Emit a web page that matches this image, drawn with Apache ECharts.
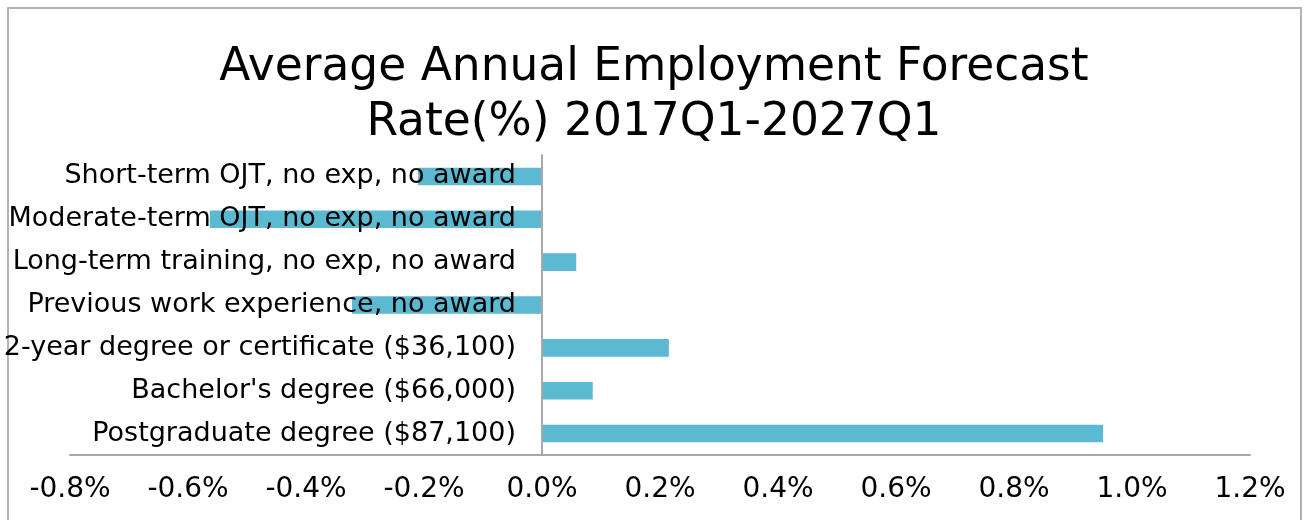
<!DOCTYPE html>
<html>
<head>
<meta charset="utf-8">
<script src="https://cdn.jsdelivr.net/npm/echarts@6/dist/echarts.min.js"></script>
<style>
html,body{margin:0;padding:0;background:#fff;}
#chart{width:1308px;height:520px;}
</style>
</head>
<body>
<div id="chart"></div>
<script>
const titleLines = ["Average Annual Employment Forecast", "Rate(%) 2017Q1-2027Q1"];
const categories = [
  "Postgraduate degree ($87,100)",
  "Bachelor's degree ($66,000)",
  "2-year degree or certificate ($36,100)",
  "Previous work experience, no award",
  "Long-term training, no exp, no award",
  "Moderate-term OJT, no exp, no award",
  "Short-term OJT, no exp, no award"
];
const rates = [0.951, 0.086, 0.215, -0.322, 0.058, -0.563, -0.210];
const xMin = -0.8, xMax = 1.2, xStep = 0.2;

const gridLeft = 70, gridRight = 58;
const chartW = 1308;
const plotW = chartW - gridLeft - gridRight;
const zeroOffset = -plotW * (0 - xMin) / (xMax - xMin);

const chart = echarts.init(document.getElementById('chart'), null, {renderer: 'canvas'});
const font = "'DejaVu Sans', Verdana, sans-serif";
chart.setOption({
  animation: false,
  backgroundColor: '#ffffff',
  title: {
    text: titleLines.join('\n'),
    left: 'center',
    top: 36,
    textStyle: {fontFamily: font, fontSize: 45.5, fontWeight: 'normal', color: '#000', lineHeight: 55}
  },
  graphic: [{
    type: 'rect',
    shape: {x: 8, y: 8, width: 1293, height: 530},
    style: {fill: 'none', stroke: '#b3b3b3', lineWidth: 2},
    silent: true
  }],
  grid: {left: gridLeft, right: gridRight, top: 155, bottom: 65, containLabel: false, outerBoundsMode: 'none'},
  xAxis: {
    type: 'value',
    min: xMin, max: xMax, interval: xStep,
    axisLine: {show: true, onZero: false, lineStyle: {color: '#a9a9a9', width: 2}},
    axisTick: {show: false},
    splitLine: {show: false},
    axisLabel: {
      margin: 21,
      fontFamily: font, fontSize: 28, color: '#000',
      formatter: v => v.toFixed(1) + '%'
    }
  },
  yAxis: {
    type: 'category',
    data: categories,
    z: 10,
    offset: zeroOffset,
    axisLine: {show: true, onZero: false, lineStyle: {color: '#a9a9a9', width: 2}},
    axisTick: {show: false},
    splitLine: {show: false},
    axisLabel: {margin: 26, fontFamily: font, fontSize: 27, color: '#000'}
  },
  series: [{
    type: 'bar',
    data: rates,
    barCategoryGap: '59%',
    itemStyle: {color: '#5bb9d2'}
  }]
});
</script>
</body>
</html>
